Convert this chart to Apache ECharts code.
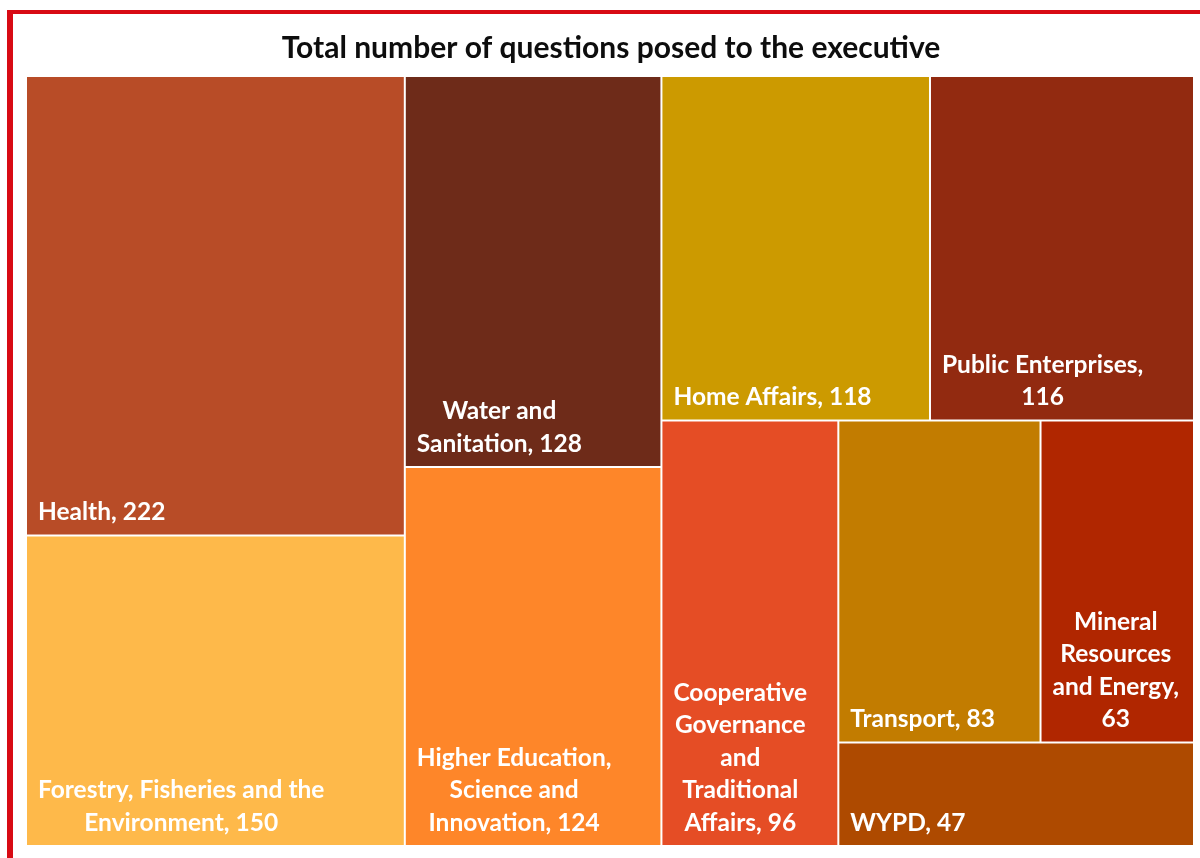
<!DOCTYPE html>
<html>
<head>
<meta charset="utf-8">
<style>
  html, body { margin: 0; padding: 0; background: #ffffff; }
  #chart { width: 1200px; height: 858px; }
</style>
<script src="https://cdn.jsdelivr.net/npm/echarts@6/dist/echarts.min.js"></script>
</head>
<body>
<div id="chart"></div>
<script>
// Portfolio committees and the number of questions posed to the executive
const categories = [
  'Health',
  'Forestry, Fisheries and the Environment',
  'Water and Sanitation',
  'Higher Education, Science and Innovation',
  'Home Affairs',
  'Public Enterprises',
  'Cooperative Governance and Traditional Affairs',
  'Transport',
  'Mineral Resources and Energy',
  'WYPD'
];
const questions = [222, 150, 128, 124, 118, 116, 96, 83, 63, 47];
const colours = [
  '#b84c27', '#feb94a', '#6e2b19', '#fe8629', '#cc9a00',
  '#922a10', '#e54d25', '#c27c00', '#b02600', '#ae4a00'
];

// How each tile's label breaks into lines ({v} is the value)
const labelLines = {
  'Health': ['Health, {v}'],
  'Forestry, Fisheries and the Environment': ['Forestry, Fisheries and the', 'Environment, {v}'],
  'Water and Sanitation': ['Water and', 'Sanitation, {v}'],
  'Higher Education, Science and Innovation': ['Higher Education,', 'Science and', 'Innovation, {v}'],
  'Home Affairs': ['Home Affairs, {v}'],
  'Public Enterprises': ['Public Enterprises,', '{v}'],
  'Cooperative Governance and Traditional Affairs': ['Cooperative', 'Governance', 'and', 'Traditional', 'Affairs, {v}'],
  'Transport': ['Transport, {v}'],
  'Mineral Resources and Energy': ['Mineral', 'Resources', 'and Energy,', '{v}'],
  'WYPD': ['WYPD, {v}']
};

// Grouping of tiles (indices into categories) that fixes the tiling order
const tiling = [[0, 1], [2, 3], [[4, 5], [6, [[7, 8], 9]]]];

const FONT_FAMILY = 'Lato';
const LABEL_FONT_SIZE = 24.5;
const LABEL_PAD = 11;

const measureCtx = document.createElement('canvas').getContext('2d');
measureCtx.font = 'bold ' + LABEL_FONT_SIZE + 'px ' + FONT_FAMILY;

function leafNode(i) {
  const lines = labelLines[categories[i]].map(function (l) {
    return l.replace('{v}', String(questions[i]));
  });
  const blockW = Math.max.apply(null, lines.map(function (l) {
    return measureCtx.measureText(l).width;
  }));
  return {
    name: categories[i],
    value: questions[i],
    itemStyle: { color: colours[i], borderColor: '#ffffff', borderWidth: 1 },
    label: {
      show: true,
      formatter: lines.join('\n'),
      position: [LABEL_PAD + blockW / 2, '100%'],
      offset: [0, -6],
      align: 'center',
      verticalAlign: 'bottom'
    }
  };
}

function buildNode(spec, path) {
  if (typeof spec === 'number') {
    return leafNode(spec);
  }
  return {
    name: 'group-' + path,
    itemStyle: { borderWidth: 0, gapWidth: 0 },
    label: { show: false },
    children: spec.map(function (s, k) { return buildNode(s, path + '-' + k); })
  };
}

const treeData = tiling.map(function (s, k) { return buildNode(s, String(k)); });

const chart = echarts.init(document.getElementById('chart'), null, { renderer: 'canvas' });

chart.setOption({
  animation: false,
  backgroundColor: '#ffffff',
  title: {
    text: 'Total number of questions posed to the executive',
    left: 606,
    top: 28,
    textAlign: 'center',
    textStyle: {
      fontFamily: FONT_FAMILY,
      fontWeight: 'bold',
      fontSize: 30,
      color: '#0d0d0d'
    }
  },
  graphic: [
    { type: 'rect', shape: { x: 7, y: 10, width: 6, height: 860 }, style: { fill: '#d80a14' }, silent: true },
    { type: 'rect', shape: { x: 7, y: 10, width: 1200, height: 4 }, style: { fill: '#d80a14' }, silent: true }
  ],
  tooltip: { show: false },
  series: [{
    type: 'treemap',
    left: 26,
    top: 76,
    width: 1168,
    height: 770,
    sort: false,
    squareRatio: 0.8,
    roam: false,
    nodeClick: false,
    breadcrumb: { show: false },
    visibleMin: 0,
    itemStyle: { borderWidth: 0, gapWidth: 0, borderColor: '#ffffff' },
    label: {
      show: true,
      color: '#ffffff',
      fontFamily: FONT_FAMILY,
      fontWeight: 'bold',
      fontSize: LABEL_FONT_SIZE,
      lineHeight: 32.5,
      padding: 0,
      overflow: 'none'
    },
    upperLabel: { show: false },
    emphasis: { disabled: true },
    data: treeData
  }]
});
</script>
</body>
</html>
